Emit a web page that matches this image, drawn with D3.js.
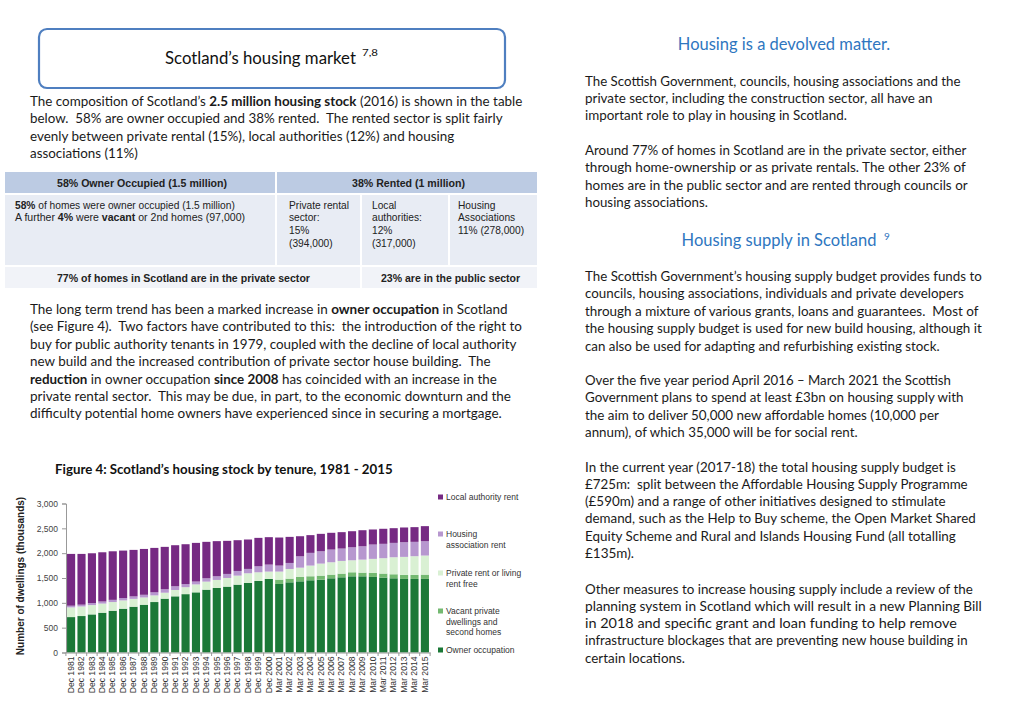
<!DOCTYPE html>
<html><head><meta charset="utf-8">
<script src="https://cdn.jsdelivr.net/npm/d3@7"></script>
<style>
html,body{margin:0;padding:0;background:#fff;}
svg{display:block;}
text{white-space:pre;}
</style></head>
<body>
<svg id="page" width="1024" height="709"></svg>
<script>
// ---------- DATA ----------
const years = ["Dec 1981","Dec 1982","Dec 1983","Dec 1984","Dec 1985","Dec 1986","Dec 1987","Dec 1988","Dec 1989","Dec 1990",
  "Dec 1991","Dec 1992","Dec 1993","Dec 1994","Dec 1995","Dec 1996","Dec 1997","Dec 1998","Dec 1999","Dec 2000",
  "Mar 2001","Mar 2002","Mar 2003","Mar 2004","Mar 2005","Mar 2006","Mar 2007","Mar 2008","Mar 2009","Mar 2010",
  "Mar 2011","Mar 2012","Mar 2013","Mar 2014","Mar 2015"];
const ownerOccupation = [713,734,767,801,841,882,922,962,1016,1084,1131,1175,1211,1265,1299,1326,1366,1400,1440,1481,
  1380,1413,1433,1454,1467,1494,1514,1534,1534,1521,1508,1494,1481,1481,1481];
const vacantPrivate = [0,0,0,0,0,0,0,0,0,0,0,0,0,0,0,0,0,0,0,0,
  87,74,87,81,81,74,74,81,74,81,81,81,81,81,87];
const privateRent = [195,193,188,184,175,167,158,146,134,120,128,140,160,162,162,175,182,195,175,148,
  162,195,188,215,242,249,256,242,262,283,310,343,363,377,384];
const housingAssociation = [34,36,40,42,44,47,50,54,62,70,75,62,58,67,74,81,94,88,121,141,
  121,121,229,256,249,256,249,262,269,289,289,289,296,289,289];
const localAuthority = [1043,1022,1003,991,978,956,936,923,894,853,826,803,778,734,707,666,619,592,572,552,
  565,525,404,357,350,337,330,323,323,303,303,296,296,296,303];
const yTicks = [0,500,1000,1500,2000,2500,3000];
const seriesNames = ["Owner occupation","Vacant private dwellings and second homes","Private rent or living rent free","Housing association rent","Local authority rent"];
const seriesColors = ["#1b7837","#74b971","#d9f0d3","#b797cf","#762a83"];
const legendLines = [["Local authority rent"],["Housing","association rent"],["Private rent or living","rent free"],["Vacant private","dwellings and","second homes"],["Owner occupation"]];

// ---------- TEXT ----------
const boxTitle = "Scotland\u2019s housing market";
const boxSup = "7,8";
const para1 = [
  ["The composition of Scotland\u2019s **2.5 million housing stock** (2016) is shown in the table",101,523],
  ["below.  58% are owner occupied and 38% rented.  The rented sector is split fairly",118,503],
  ["evenly between private rental (15%), local authorities (12%) and housing",136,455],
  ["associations (11%)",153,138]];
const para2 = [
  ["The long term trend has been a marked increase in **owner occupation** in Scotland",309,508],
  ["(see Figure 4).  Two factors have contributed to this:  the introduction of the right to",326,522],
  ["buy for public authority tenants in 1979, coupled with the decline of local authority",344,517],
  ["new build and the increased contribution of private sector house building.  The",361,491],
  ["**reduction** in owner occupation **since 2008** has coincided with an increase in the",379,497],
  ["private rental sector.  This may be due, in part, to the economic downturn and the",396,511],
  ["difficulty potential home owners have experienced since in securing a mortgage.",413,502]];
const rightText = [
  ["The Scottish Government, councils, housing associations and the",81,961],
  ["private sector, including the construction sector, all have an",98,933],
  ["important role to play in housing in Scotland.",115,847],
  ["Around 77% of homes in Scotland are in the private sector, either",150,967],
  ["through home-ownership or as private rentals. The other 23% of",167,966],
  ["homes are in the public sector and are rented through councils or",185,968],
  ["housing associations.",202,708],
  ["The Scottish Government\u2019s housing supply budget provides funds to",276,982],
  ["councils, housing associations, individuals and private developers",293,964],
  ["through a mixture of various grants, loans and guarantees.  Most of",311,979],
  ["the housing supply budget is used for new build housing, although it",328,982],
  ["can also be used for adapting and refurbishing existing stock.",346,940],
  ["Over the five year period April 2016 \u2013 March 2021 the Scottish",380,951],
  ["Government plans to spend at least \u00a33bn on housing supply with",397,964],
  ["the aim to deliver 50,000 new affordable homes (10,000 per",415,939],
  ["annum), of which 35,000 will be for social rent.",432,858],
  ["In the current year (2017-18) the total housing supply budget is",467,956],
  ["\u00a3725m:  split between the Affordable Housing Supply Programme",484,968],
  ["(\u00a3590m) and a range of other initiatives designed to stimulate",501,946],
  ["demand, such as the Help to Buy scheme, the Open Market Shared",518,976],
  ["Equity Scheme and Rural and Islands Housing Fund (all totalling",536,956],
  ["\u00a3135m).",553,634],
  ["Other measures to increase housing supply include a review of the",589,973],
  ["planning system in Scotland which will result in a new Planning Bill",606,982],
  ["in 2018 and specific grant and loan funding to help remove",623,957],
  ["infrastructure blockages that are preventing new house building in",640,968],
  ["certain locations.",658,685]];

// ---------- DRAW ----------
const svg = d3.select("#page");
svg.append("rect").attr("width",1024).attr("height",709).attr("fill","#fff");
const BODY = "Lato, 'Open Sans', sans-serif";
const ARIAL = "'Liberation Sans', Arial, sans-serif";

function fitLine(g, str, x, yc, right, size, fam, color) {
  const t = g.append("text").attr("font-family", fam).attr("font-size", size).attr("fill", color || "#1a1a1a");
  str.split("**").forEach((s, i) => { if (s.length) t.append("tspan").attr("font-weight", i % 2 ? 700 : 400).text(s); });
  const w = t.node().getComputedTextLength();
  const k = right ? (right - x) / w : 1;
  t.attr("transform", `translate(${x},${yc + size*0.35}) scale(${k},1)`);
  return t;
}

// title box
svg.append("rect").attr("x",39).attr("y",29).attr("width",466).attr("height",59).attr("rx",8)
  .attr("fill","#fff").attr("stroke","#4f7fc0").attr("stroke-width",2.2);
fitLine(svg, boxTitle, 165, 58, 356, 16.5, BODY, "#111");
fitLine(svg, boxSup, 362, 52, 378, 10, BODY, "#111");

const left = svg.append("g");
para1.forEach(d => fitLine(left, d[0], 30, d[1], d[2], 13.5, BODY));
para2.forEach(d => fitLine(left, d[0], 30, d[1], d[2], 13.5, BODY));

// table
const tbl = svg.append("g");
const cells = [
  [5,172,270,21,"#bccbe3"],[277,172,260,21,"#bccbe3"],
  [5,195,270,70,"#e8ecf4"],[277,195,83,70,"#e8ecf4"],[362,195,86,70,"#e8ecf4"],[450,195,87,70,"#e8ecf4"],
  [5,267,355,21,"#f1f3f8"],[362,267,175,21,"#f1f3f8"]];
tbl.selectAll("rect").data(cells).join("rect")
  .attr("x",d=>d[0]).attr("y",d=>d[1]).attr("width",d=>d[2]).attr("height",d=>d[3]).attr("fill",d=>d[4]);
const TS = 10.2;
function tText(str, x, yc, right) { return fitLine(tbl, str, x, yc, right, TS, ARIAL, "#222"); }
tText("**58% Owner Occupied (1.5 million)**", 57, 183, 227);
tText("**38% Rented (1 million)**", 352, 183, 465);
tText("**58%** of homes were owner occupied (1.5 million)", 15, 205, 235);
tText("A further **4%** were **vacant** or 2nd homes (97,000)", 15, 217, 245);
[["Private rental",205],["sector:",217],["15%",230],["(394,000)",243]].forEach(d=>tText(d[0],289,d[1],null));
[["Local",205],["authorities:",217],["12%",230],["(317,000)",243]].forEach(d=>tText(d[0],372,d[1],null));
[["Housing",205],["Associations",217],["11% (278,000)",230]].forEach(d=>tText(d[0],458,d[1],null));
tText("**77% of homes in Scotland are in the private sector**", 57, 278, 310);
tText("**23% are in the public sector**", 381, 278, 520);

// right column
const right = svg.append("g");
right.append("text").attr("x",784).attr("y",50).attr("text-anchor","middle")
  .attr("font-family",BODY).attr("font-size",16.5).attr("fill","#2e76c0").text("Housing is a devolved matter.");
right.append("text").attr("x",779).attr("y",246).attr("text-anchor","middle")
  .attr("font-family",BODY).attr("font-size",16.5).attr("fill","#2e76c0").text("Housing supply in Scotland");
right.append("text").attr("x",884).attr("y",240).attr("font-family",BODY).attr("font-size",10).attr("fill","#2e76c0").text("9");
rightText.forEach(d => fitLine(right, d[0], 585, d[1], d[2], 13.5, BODY));

// figure caption
fitLine(svg, "**Figure 4: Scotland\u2019s housing stock by tenure, 1981 - 2015**", 55, 470, 393, 12.5, BODY, "#111");

// ---------- CHART ----------
const chart = svg.append("g");
const x = d3.scaleBand().domain(years).range([66, 430]).paddingInner(0.22).paddingOuter(0.1);
const y = d3.scaleLinear().domain([0, 3000]).range([652.5, 503.5]);
const rows = years.map((yr, i) => ({year: yr,
  [seriesNames[0]]: ownerOccupation[i], [seriesNames[1]]: vacantPrivate[i], [seriesNames[2]]: privateRent[i],
  [seriesNames[3]]: housingAssociation[i], [seriesNames[4]]: localAuthority[i]}));
const stacked = d3.stack().keys(seriesNames)(rows);
chart.selectAll("g.s").data(stacked).join("g").attr("class","s").attr("fill",(d,i)=>seriesColors[i])
  .selectAll("rect").data(d=>d).join("rect")
  .attr("x", d => x(d.data.year)).attr("width", x.bandwidth())
  .attr("y", d => y(d[1])).attr("height", d => y(d[0]) - y(d[1]));

// y axis
const yAxis = chart.append("g").attr("transform","translate(66,0)")
  .call(d3.axisLeft(y).tickValues(yTicks).tickFormat(d3.format(",")).tickSize(4).tickPadding(4));
yAxis.select(".domain").attr("stroke","#999");
yAxis.selectAll(".tick line").attr("stroke","#999");
yAxis.selectAll("text").attr("font-family",ARIAL).attr("font-size",8.5).attr("fill","#444");

// x axis
const xAxis = chart.append("g").attr("transform","translate(0,652.5)")
  .call(d3.axisBottom(x).tickSize(0).tickPadding(4));
xAxis.select(".domain").attr("stroke","#999");
xAxis.selectAll(".tick text").attr("font-family",ARIAL).attr("font-size",8.6).attr("fill","#333")
  .attr("text-anchor","end").attr("transform","rotate(-90)").attr("x",-4).attr("y",0).attr("dy","0.32em");
const step = x.step();
chart.append("g").selectAll("line").data(d3.range(years.length + 1)).join("line")
  .attr("x1", i => 66 + x.paddingOuter()*step - x.paddingInner()*step/2 + i*step)
  .attr("x2", i => 66 + x.paddingOuter()*step - x.paddingInner()*step/2 + i*step)
  .attr("y1", 652.5).attr("y2", 656).attr("stroke","#999");

// y title
chart.append("text").attr("transform","translate(24,576) rotate(-90)").attr("text-anchor","middle")
  .attr("font-family",ARIAL).attr("font-size",10).attr("font-weight",700).attr("fill","#222")
  .text("Number of dwellings (thousands)");

// legend
const legY = [497, 534, 573, 611, 650];
const leg = chart.append("g");
legendLines.forEach((lines, i) => {
  const ci = seriesNames.length - 1 - i;
  leg.append("rect").attr("x",438).attr("y",legY[i]-2.5).attr("width",5).attr("height",5).attr("fill",seriesColors[ci]);
  lines.forEach((l, j) => leg.append("text").attr("x",446).attr("y",legY[i] + j*10.5 + 3)
    .attr("font-family",ARIAL).attr("font-size",8.5).attr("fill","#333").text(l));
});
</script>
</body></html>
